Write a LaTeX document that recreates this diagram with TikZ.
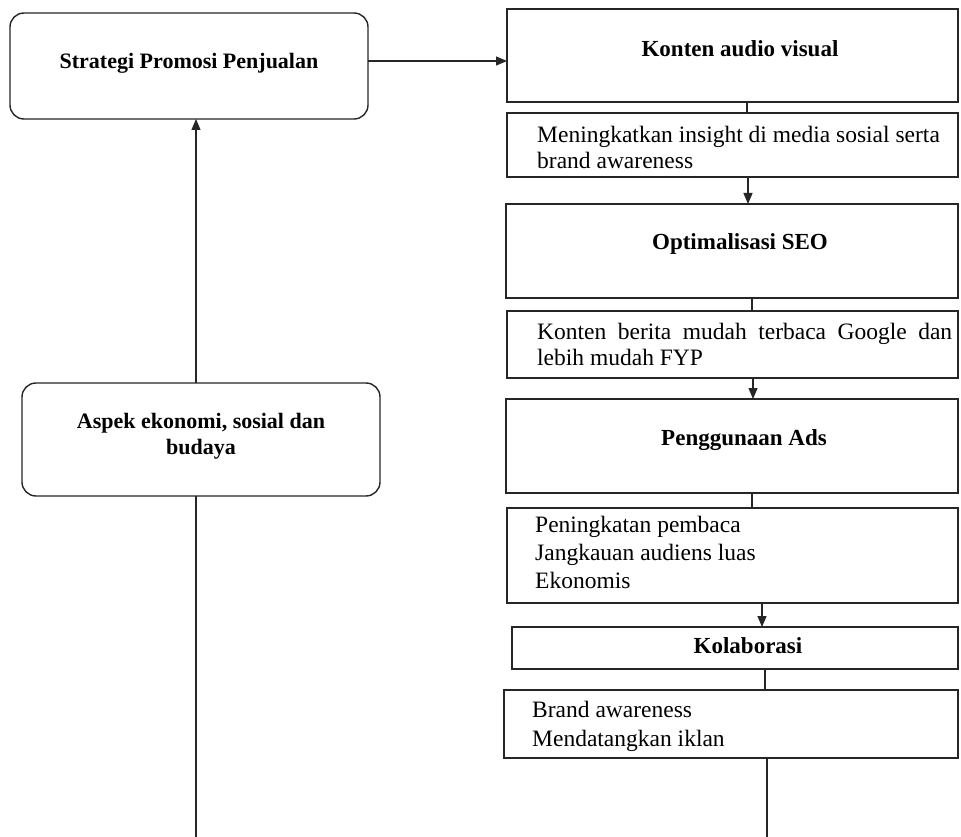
\documentclass[tikz,border=0pt]{standalone}
\usepackage{fontspec}
\setmainfont{Liberation Serif}
\usetikzlibrary{arrows.meta}
\begin{document}
\begin{tikzpicture}[x=1pt,y=-1pt,
  box/.style={draw=black!85, line width=1.4pt, inner sep=0pt, outer sep=0pt, anchor=north west},
  rbox/.style={box, rounded corners=14pt},
  link/.style={draw=black!85, line width=1.2pt},
  arr/.style={link, -{Triangle[length=11pt,width=9pt]}},
  reg/.style={font=\fontsize{23.5}{28}\selectfont, inner sep=0pt, anchor=base west},
  ttl/.style={font=\bfseries\fontsize{23}{28}\selectfont, inner sep=0pt, anchor=base},
  ttls/.style={ttl, font=\bfseries\fontsize{22}{26}\selectfont},
]
\useasboundingbox (0,0) rectangle (961,837);
\fill[white] (0,0) rectangle (961,837);

% boxes
\node[rbox, minimum width=358pt, minimum height=106pt] (strat) at (10,13) {};
\node[rbox, minimum width=358pt, minimum height=113pt] (aspek) at (22,383) {};
\node[box, minimum width=451pt, minimum height=93pt] (kav) at (507,9) {};
\node[box, minimum width=451pt, minimum height=64pt] (ins) at (507,113) {};
\node[box, minimum width=452pt, minimum height=94pt] (seo) at (506,204) {};
\node[box, minimum width=451pt, minimum height=67pt] (ber) at (507,311) {};
\node[box, minimum width=452pt, minimum height=94pt] (ads) at (506,399) {};
\node[box, minimum width=451pt, minimum height=95pt] (pen) at (507,508) {};
\node[box, minimum width=446pt, minimum height=42pt] (kol) at (512,627) {};
\node[box, minimum width=454pt, minimum height=68pt] (brand) at (504,690) {};

% texts
\node[ttls] (stxt) at (189,69) {Strategi Promosi Penjualan};
\node[ttls] (atxa) at (201,428) {Aspek ekonomi, sosial dan};
\node[ttls] (atxb) at (201,454) {budaya};
\node[ttl] (t1) at (740,57) {Konten audio visual};
\node[reg] (t2a) at (537,143) {Meningkatkan insight di media sosial serta};
\node[reg] (t2b) at (537,169) {brand awareness};
\node[ttl] (t3) at (740,250) {Optimalisasi SEO};
\node[reg] (t4a) at (537,339) {\makebox[415pt][s]{Konten berita mudah terbaca Google dan}};
\node[reg] (t4b) at (537,365) {lebih mudah FYP};
\node[ttl] (t5) at (744,445) {Penggunaan Ads};
\node[reg] (t6a) at (535,532) {Peningkatan pembaca};
\node[reg] (t6b) at (535,560) {Jangkauan audiens luas};
\node[reg] (t6c) at (535,588) {Ekonomis};
\node[ttl] (t7) at (748,653) {Kolaborasi};
\node[reg] (t8a) at (532,717) {Brand awareness};
\node[reg] (t8b) at (532,746) {Mendatangkan iklan};

% helper coordinates
\coordinate (ay) at (0,61);
\coordinate (c1) at (747,0);
\coordinate (c2) at (748,0);
\coordinate (c3) at (752,0);
\coordinate (c4) at (753,0);
\coordinate (c5) at (752,0);
\coordinate (c6) at (762,0);
\coordinate (c7) at (765,0);
\coordinate (rb) at (767,837);
\coordinate (lb) at (196,837);

% connectors
\draw[arr] (strat.east |- ay) -- (kav.west |- ay);
\draw[link] (kav.south -| c1) -- (ins.north -| c1);
\draw[arr] (ins.south -| c2) -- (seo.north -| c2);
\draw[link] (seo.south -| c3) -- (ber.north -| c3);
\draw[arr] (ber.south -| c4) -- (ads.north -| c4);
\draw[link] (ads.south -| c5) -- (pen.north -| c5);
\draw[arr] (pen.south -| c6) -- (kol.north -| c6);
\draw[link] (kol.south -| c7) -- (brand.north -| c7);
\draw[link] (brand.south -| rb) -- (rb);
\draw[link] (lb) -- (aspek.south -| lb);
\draw[arr] (aspek.north -| lb) -- (strat.south -| lb);
\end{tikzpicture}
\end{document}
